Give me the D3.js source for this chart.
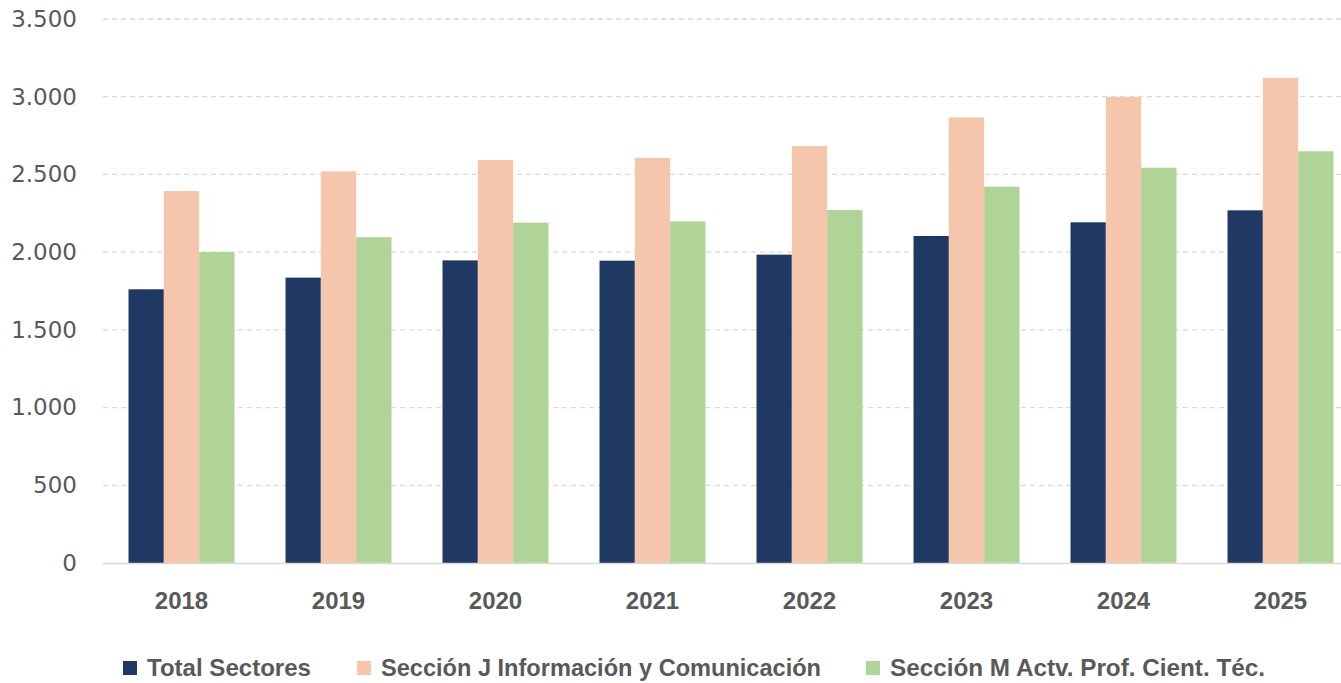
<!DOCTYPE html>
<html><head><meta charset="utf-8">
<script src="https://cdn.jsdelivr.net/npm/d3@7"></script>
<style>body{margin:0;background:#fff}svg{display:block}</style>
</head><body>
<svg id="c" width="1341" height="683"></svg>
<script>
const years = ["2018","2019","2020","2021","2022","2023","2024","2025"];
const seriesNames = ["Total Sectores","Sección J Información y Comunicación","Sección M Actv. Prof. Cient. Téc."];
const totalSectores = [1761,1836,1947,1945,1984,2104,2192,2269];
const seccionJ = [2393,2520,2593,2606,2683,2867,2998,3122];
const seccionM = [2001,2096,2190,2198,2271,2421,2543,2649];
const yTicks = [0,500,1000,1500,2000,2500,3000,3500];
const colors = ["#203864","#f5c6ab","#b0d497"];

(function(){
const svg = d3.select("#c");
const pLeft = 103, pRight = 1359, pTop = 19, pBottom = 563;
const x = d3.scaleBand().domain(years).range([pLeft,pRight]).paddingInner(0.325).paddingOuter(0.1625);
const y = d3.scaleLinear().domain([0,3500]).range([pBottom,pTop]);
const keys = ["t","j","m"];
const xs = d3.scaleBand().domain(keys).range([0,x.bandwidth()]);
const data = years.map((yr,i)=>({year:yr,t:totalSectores[i],j:seccionJ[i],m:seccionM[i]}));

// gridlines
svg.append("g").selectAll("line").data(yTicks.filter(d=>d>0)).join("line")
  .attr("x1",pLeft).attr("x2",1341).attr("y1",d=>y(d)).attr("y2",d=>y(d))
  .attr("stroke","#d9d9d9").attr("stroke-width",1.3).attr("stroke-dasharray","5,4");

// y axis labels
const yAxis = d3.axisLeft(y).tickValues(yTicks).tickSize(0).tickPadding(0)
  .tickFormat(d=>d3.format(",")(d).replace(/,/g,"."));
const ya = svg.append("g").attr("transform","translate(77,0)").call(yAxis);
ya.select(".domain").remove();
ya.selectAll("text").attr("font-family","DejaVu Sans").attr("font-size",23).attr("fill","#595959");

// bars
svg.append("g").selectAll("g").data(data).join("g")
  .attr("transform",d=>`translate(${x(d.year)},0)`)
  .selectAll("rect").data(d=>keys.map((k,i)=>({k,i,v:d[k]}))).join("rect")
  .attr("x",d=>xs(d.k)).attr("width",xs.bandwidth())
  .attr("y",d=>y(d.v)).attr("height",d=>y(0)-y(d.v))
  .attr("fill",d=>colors[d.i]);

// baseline
svg.append("line").attr("x1",pLeft).attr("x2",1341).attr("y1",y(0)+0.5).attr("y2",y(0)+0.5)
  .attr("stroke","#d9d9d9").attr("stroke-width",1.3);

// x axis
const xAxis = d3.axisBottom(x).tickSize(0).tickPadding(0);
const xa = svg.append("g").attr("transform",`translate(0,${pBottom})`).call(xAxis);
xa.select(".domain").remove();
xa.selectAll("text").attr("y",0).attr("dy","46px").attr("font-family","Liberation Sans Narrow, Liberation Sans, sans-serif")
  .attr("font-weight","bold").attr("font-size",24).attr("fill","#595959");

// legend
const legX = [123,357,866];
const legW = [164,440,375];
const lg = svg.append("g").selectAll("g").data(seriesNames).join("g")
  .attr("transform",(d,i)=>`translate(${legX[i]},661)`);
lg.append("rect").attr("width",14).attr("height",14).attr("fill",(d,i)=>colors[i]);
lg.append("text").attr("x",24).attr("y",15).text(d=>d)
  .attr("font-family","Liberation Sans Narrow, Liberation Sans, sans-serif").attr("font-weight","bold")
  .attr("font-size",24).attr("fill","#595959")
  .attr("textLength",(d,i)=>legW[i]).attr("lengthAdjust","spacingAndGlyphs");
})();
</script>
</body></html>
